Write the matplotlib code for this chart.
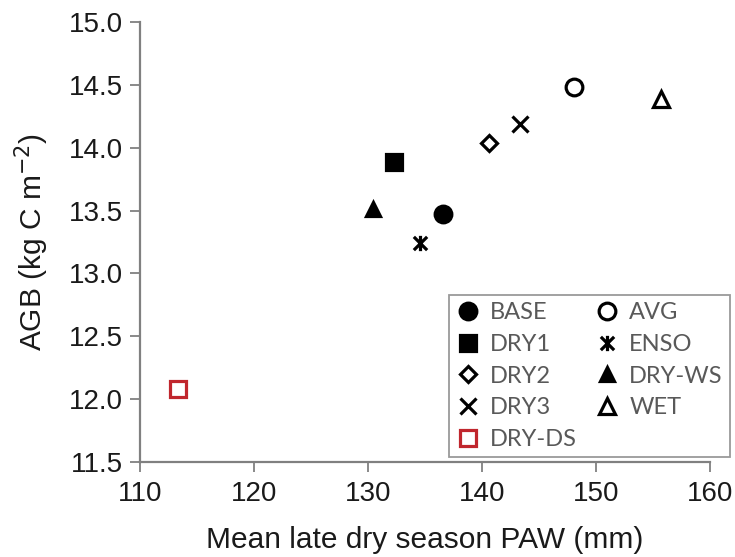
import matplotlib.pyplot as plt
from matplotlib.path import Path

# scenario results: mean late dry season PAW vs above-ground biomass
names = ['BASE', 'DRY1', 'DRY2', 'DRY3', 'DRY-DS', 'AVG', 'ENSO', 'DRY-WS', 'WET']
paw = [136.6, 132.3, 140.6, 143.3, 113.4, 148.1, 134.6, 130.5, 155.7]
agb = [13.47, 13.89, 14.04, 14.19, 12.08, 14.48, 13.24, 13.51, 14.39]

# X with a vertical bar through it
star = Path([(-1, -1), (1, 1), (-1, 1), (1, -1), (0, -1.15), (0, 1.15)],
            [Path.MOVETO, Path.LINETO] * 3)

markers = ['o', 's', 'D', 'x', 's', 'o', star, '^', '^']
filled = [True, True, False, False, False, False, False, True, False]
sizes = [12, 11, 8, 11, 11, 12, 11, 10, 11]
colors = ['black'] * 4 + ['#c0262d'] + ['black'] * 4

plt.rcParams['font.family'] = ['Liberation Sans', 'DejaVu Sans']

fig = plt.figure(figsize=(7.35, 5.57), dpi=100)
ax = fig.add_axes([0.19, 0.1706, 0.776, 0.7899])

for n, x, y, m, f, s, c in zip(names, paw, agb, markers, filled, sizes, colors):
    ax.plot(x, y, linestyle='none', marker=m, markersize=s,
            markerfacecolor=c if f else 'white', markeredgecolor=c,
            markeredgewidth=2.3, label=n)

ax.set_xlim(110, 160)
ax.set_ylim(11.5, 15.0)
ax.set_xticks(range(110, 161, 10))
ax.set_yticks([11.5, 12.0, 12.5, 13.0, 13.5, 14.0, 14.5, 15.0])
ax.set_yticklabels(['%.1f' % v for v in ax.get_yticks()])

for side in ['top', 'right']:
    ax.spines[side].set_visible(False)
for side in ['left', 'bottom']:
    ax.spines[side].set_color('#808080')
    ax.spines[side].set_linewidth(1.6)
ax.tick_params(colors='#808080', labelcolor='#1a1a1a', labelsize=20,
               length=7, width=1.3)
ax.tick_params(axis='x', pad=7)
ax.tick_params(axis='y', pad=5)

ax.set_xlabel('Mean late dry season PAW (mm)', fontsize=21.5, color='#1a1a1a',
              va='center')
ax.set_ylabel('AGB (kg C m$^{-2}$)', fontsize=21.5, color='#1a1a1a', va='center')
ax.xaxis.set_label_coords(0.5, -0.177)
ax.yaxis.set_label_coords(-0.19, 0.5)

leg = ax.legend(ncol=2, loc='lower right', bbox_to_anchor=(0.9932, 0.1795),
                bbox_transform=fig.transFigure, borderaxespad=0,
                frameon=True, fancybox=False, handletextpad=0.45,
                handlelength=1.0, columnspacing=0.75, labelspacing=0.45,
                borderpad=0.3, prop={'family': ['Lato', 'DejaVu Sans'], 'size': 17})
leg.get_frame().set_edgecolor('#808080')
leg.get_frame().set_linewidth(1.3)
for t in leg.get_texts():
    t.set_color('#595959')

fig.savefig('out.png', dpi=100)
